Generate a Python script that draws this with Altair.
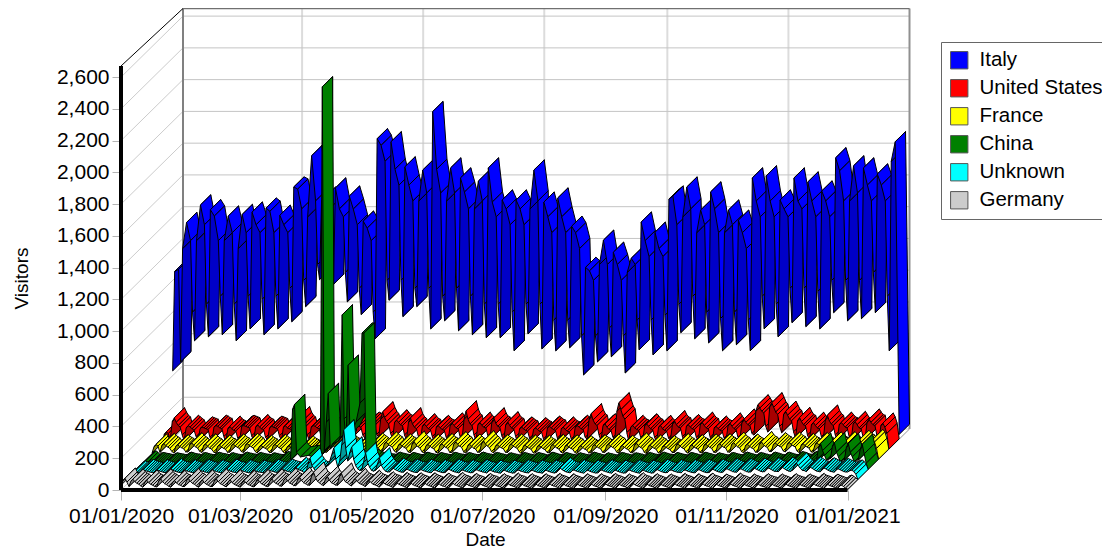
import altair as alt
import pandas as pd

alt.data_transformers.disable_max_rows()

SERIES = ["Italy", "United States", "France", "China", "Unknown", "Germany"]
BRIGHT = ["#0000ff", "#ff0000", "#ffff00", "#008000", "#00ffff", "#cccccc"]
DARK = ["#0000c8", "#a80000", "#909000", "#005000", "#009c9c", "#808080"]

TICK_DAYS = [0, 60, 121, 182, 244, 305, 366]
TICK_LABELS = ["01/01/2020", "01/03/2020", "01/05/2020", "01/07/2020", "01/09/2020", "01/11/2020", "01/01/2021"]
Y_TICKS = list(range(0, 2601, 200))

# Italy: five readings a week
ITALY_HEAD_DAYS = [0, 1, 3]
ITALY_HEAD = [430, 1056, 1070]
ITALY_WEEKS = [
    487,1200,1365,1250,800, 620,1250,1475,1350,850, 645,1445,1405,1250,900, 658,1250,1405,1300,850,
    620,1200,1415,1300,900, 695,1430,1350,1300,880, 658,1455,1435,1300,900, 695,1410,1350,1300,950,
    740,1588,1575,1450,1000, 835,1400,1785,1500,1100, 1005,1500,1525,1450,1150, 975,1582,1450,1400,1050,
    865,1531,1449,1350,950, 785,1373,1329,1250,800, 632,1892,1850,1750,1000, 875,1873,1700,1600,1000,
    772,1715,1600,1500,950, 835,1500,1695,1550,950, 695,2063,1700,1550,900, 746,1500,1708,1550,950,
    683,1645,1556,1450,900, 658,1450,1625,1500,850, 639,1708,1493,1400,850, 639,1506,1450,1350,800,
    557,1506,1450,1350,850, 664,1450,1695,1500,850, 569,1493,1400,1300,750, 557,1519,1400,1300,750,
    576,1341,1300,1200,650, 405,1082,1060,1000,650, 487,1100,1253,1100,700, 519,1177,1100,1000,650,
    417,1050,1139,1100,750, 563,1367,1250,1150,750, 531,1303,1200,1150,780, 557,1512,1531,1350,850,
    671,1400,1588,1450,900, 633,1300,1443,1350,800, 607,1557,1450,1300,760, 557,1300,1443,1350,800,
    595,1379,1300,1200,750, 557,1645,1500,1400,900, 695,1658,1500,1400,850, 645,1506,1450,1400,950,
    734,1645,1500,1450,950, 709,1620,1500,1400,930, 695,1563,1500,1400,1000, 797,1772,1690,1500,1000,
    746,1500,1721,1550,1000, 759,1708,1600,1500,1050, 797,1670,1600,1500,900,
]
ITALY_TAIL_DAYS = [361, 362, 364, 366]
ITALY_TAIL = [557, 1750, 1873, 30]

# the others: one reading a day
RED = [45,95,110,100,
    60,175,198,170,150,140,90, 55,135,150,140,130,120,80, 50,130,140,135,130,125,75, 55,140,150,145,135,130,80,
    50,130,145,130,120,115,70, 60,145,150,145,140,135,85, 55,140,155,140,130,125,75, 60,135,145,140,135,130,85,
    55,140,150,135,130,125,80, 65,170,205,170,150,140,90, 60,140,150,145,135,130,80, 55,145,155,135,125,120,75,
    60,140,150,145,140,135,85, 65,150,165,155,145,140,90, 70,160,170,165,155,150,95, 75,190,236,200,175,160,100,
    65,170,185,170,155,150,90, 60,170,198,160,140,130,80, 55,145,160,145,130,125,80, 50,140,150,135,125,120,75,
    55,150,165,150,135,130,80, 65,190,242,190,160,150,90, 55,155,170,150,140,135,85, 60,170,198,165,145,140,85,
    60,155,173,150,135,130,80, 50,130,140,130,120,115,70, 45,125,135,125,115,110,65, 50,135,145,135,125,120,70,
    45,130,140,125,115,110,65, 50,140,150,140,130,125,75, 65,190,224,185,160,150,90, 55,150,160,140,125,120,75,
    70,240,293,250,210,190,105, 50,140,150,135,125,120,75, 55,150,160,145,130,125,75, 50,140,150,130,120,115,70,
    60,160,180,155,140,135,80, 50,145,155,140,130,125,75, 55,155,170,150,135,130,75, 45,135,145,130,120,115,70,
    55,150,165,145,130,125,75, 65,170,190,170,155,150,100, 90,240,280,260,240,230,145, 110,270,293,265,235,220,145,
    105,220,240,215,190,180,110, 70,180,200,175,155,150,90, 60,155,170,150,135,130,80, 65,185,215,180,160,150,90,
    60,155,170,155,140,135,80, 55,160,175,155,135,130,80, 60,170,190,170,155,150,85, 55,150,165,140,100,2]
FRANCE = [40,80,95,85,
    45,90,100,88,78,70,50, 42,84,92,82,74,68,48, 48,94,105,90,80,72,52, 44,88,98,84,72,66,48,
    40,82,90,80,70,65,46, 46,88,96,86,76,70,50, 45,90,100,90,80,72,50, 42,80,88,78,70,64,46,
    44,86,94,84,74,68,48, 40,78,86,76,68,62,44, 38,76,84,74,66,60,42, 42,84,92,84,76,70,46,
    46,90,98,90,80,72,50, 44,82,90,80,72,66,48, 42,80,88,78,70,64,46, 48,92,102,92,82,74,52,
    50,98,110,96,86,78,54, 45,88,96,86,76,70,48, 44,96,115,92,80,72,48, 42,86,94,84,74,68,46,
    40,88,100,86,76,70,44, 44,96,112,96,84,76,48, 42,86,96,84,72,66,46, 46,100,118,98,84,74,50,
    42,84,92,82,74,68,46, 44,88,96,86,76,70,48, 38,82,90,78,70,64,42, 40,80,88,78,68,62,44,
    42,86,94,82,72,66,46, 40,82,90,80,70,64,44, 38,78,86,76,66,60,42, 42,84,92,82,74,68,46,
    44,88,96,86,76,70,48, 40,80,88,76,68,62,44, 42,90,104,88,76,70,46, 38,82,90,78,70,64,42,
    40,78,86,76,68,62,44, 44,88,100,84,74,68,48, 40,84,92,80,72,66,44, 42,88,96,86,76,70,46,
    44,90,98,88,78,72,48, 46,94,108,92,80,74,50, 42,88,96,84,74,68,46, 46,96,112,94,82,76,50,
    50,94,104,94,84,78,54, 48,96,108,96,86,80,52, 44,90,100,88,78,72,48, 46,94,106,92,80,74,50,
    48,98,110,96,84,78,52, 50,100,112,96,84,76,54, 52,104,120,106,96,90,58, 55,110,125,110,70,2]
CHINA = [35,48,55,46,
    32,42,44,41,38,36,33, 30,40,42,39,36,34,31, 33,43,46,42,38,35,34, 30,41,44,40,36,33,31,
    32,42,45,41,38,36,33, 30,40,43,38,35,32,31, 33,43,46,42,39,36,34, 32,41,44,40,37,34,33,
    30,40,42,38,35,33,31, 34,46,50,46,42,38,35, 36,48,52,48,44,40,37, 36,46,50,46,42,38,37,
    38,48,52,48,44,40,39, 38,50,54,50,46,42,39, 38,48,52,48,44,40,39, 36,46,50,46,42,38,37,
    34,44,48,44,40,36,35, 32,42,46,42,39,36,33, 30,41,44,41,37,34,31, 32,43,46,42,38,35,33,
    30,41,44,40,37,34,31, 32,42,45,41,37,34,33, 30,40,44,40,36,33,31, 32,42,46,42,38,35,33,
    30,41,44,41,37,34,31, 28,39,42,38,35,32,29, 30,41,44,40,36,33,31, 28,40,44,40,37,34,29,
    30,42,46,42,38,34,31, 30,41,44,40,36,33,31, 28,39,42,38,35,32,29, 30,42,46,42,38,35,31,
    28,38,42,38,35,32,29, 30,41,44,41,37,34,31, 28,39,42,39,36,33,29, 30,41,44,40,36,33,31,
    32,42,46,42,38,34,33, 30,41,44,40,36,33,31, 28,41,44,41,37,34,29, 30,42,46,42,38,35,31,
    28,38,42,38,35,32,29, 30,41,44,40,36,33,31, 30,42,46,42,38,34,31, 28,40,44,40,36,33,29,
    30,42,46,43,39,35,31, 30,42,46,42,38,34,31, 32,46,50,46,42,36,33, 34,46,50,46,42,36,35,
    60,140,165,120,90,60,65, 70,150,170,110,80,50,60, 60,140,165,110,80,50,60, 60,130,160,100,40,2]
SPIKE_DAYS = [74, 75, 76, 77, 78, 80, 84, 89, 90, 91, 92, 93, 94, 95, 96, 99, 100, 101, 102, 103, 104, 105, 108, 110, 111, 112, 113, 116]
SPIKE_VALUES = [45, 60, 380, 411, 110, 80, 90, 70, 90, 2411, 120, 300, 480, 130, 160, 180, 200, 975, 320, 180, 658, 220, 300, 420, 860, 860, 70, 50]
UNKNOWN = [35,50,55,48,
    46,60,64,58,54,50,47, 44,58,62,56,52,48,45, 46,62,70,60,54,50,47, 44,58,62,56,52,48,45,
    45,60,64,58,54,50,46, 44,58,62,56,52,48,45, 46,62,66,60,54,50,47, 44,58,62,56,52,48,45,
    44,56,60,54,50,48,45, 46,60,64,58,54,50,47, 48,62,66,60,56,52,49, 46,66,78,66,60,55,46,
    45,100,138,90,70,55,50, 50,60,70,80,90,120,160, 201,130,80,120,220,315,200, 120,170,207,130,90,70,60,
    60,110,170,110,80,60,55, 60,100,138,90,70,55,50, 50,66,72,64,58,52,49, 48,62,66,60,54,50,47,
    46,60,64,58,54,50,47, 44,58,62,56,52,48,45, 46,62,66,60,54,50,47, 44,58,62,56,52,48,45,
    46,60,64,58,54,50,47, 44,56,60,54,50,48,45, 42,56,60,54,50,46,43, 44,58,62,56,52,48,45,
    44,56,60,54,50,46,45, 42,56,60,54,50,46,43, 46,64,75,64,56,50,47, 44,58,62,56,52,48,45,
    42,56,60,54,50,46,43, 44,58,62,56,52,48,45, 42,56,60,54,50,46,43, 44,58,62,56,52,48,45,
    42,56,60,54,50,46,43, 44,60,64,58,52,48,45, 46,58,62,56,52,48,47, 44,58,62,56,52,48,45,
    44,60,64,58,52,48,45, 46,62,66,60,54,50,47, 48,66,70,64,58,52,49, 48,66,70,64,58,52,49,
    50,68,72,66,60,54,51, 52,70,75,68,60,54,53, 52,72,78,70,62,56,53, 60,90,106,90,72,60,58,
    52,74,80,72,64,56,53, 50,70,74,68,60,54,51, 48,66,70,64,58,52,49, 50,58,60,52,35,2]
GERMANY = [30,60,74,50,
    22,56,68,52,42,36,26, 18,50,62,46,36,30,22, 20,58,70,52,40,34,24, 18,48,60,44,34,30,22,
    22,60,72,54,42,36,26, 18,52,64,46,36,30,22, 22,58,70,52,40,34,26, 20,52,64,46,36,30,24,
    18,48,60,44,34,30,22, 20,54,66,48,38,32,24, 22,58,70,52,42,36,26, 24,62,74,56,44,38,28,
    28,66,80,60,46,40,32, 30,90,112,78,54,45,34, 28,70,85,62,46,40,32, 30,86,106,74,52,45,34,
    26,60,72,54,42,36,30, 22,50,60,46,36,32,26, 18,42,50,38,32,28,22, 16,38,46,36,30,26,20,
    14,36,44,34,28,24,18, 14,36,44,34,28,24,18, 12,34,42,32,26,22,16, 14,38,46,34,28,24,18,
    12,32,40,30,26,22,16, 12,32,40,30,26,22,16, 10,30,38,28,24,20,14, 12,34,42,30,26,22,16,
    10,30,38,28,24,20,14, 10,30,38,28,24,20,14, 12,32,40,30,26,22,16, 10,30,38,28,24,20,14,
    10,30,38,28,24,20,14, 10,30,38,28,24,20,14, 12,32,40,30,26,22,16, 10,28,36,28,24,20,14,
    12,36,44,32,26,22,16, 10,30,38,28,24,20,14, 10,28,36,28,24,20,14, 12,32,40,30,26,22,16,
    10,30,38,28,24,20,14, 12,34,42,30,26,22,16, 10,28,36,28,24,20,14, 12,34,42,30,26,22,16,
    10,28,36,28,24,20,14, 12,30,38,28,24,20,16, 10,28,36,28,24,20,14, 12,30,38,28,24,20,16,
    10,28,36,28,24,20,14, 12,32,40,30,26,22,16, 10,28,36,28,24,20,14, 12,26,30,22,12,2]

# geometry (scale factors chosen to fit the 1110x556 picture)
PX_PER_DAY = 1.985
PX_PER_UNIT = 0.1588
PLOT_W, PLOT_H = 789, 482
DEPTH_DAYS = 62 / PX_PER_DAY
DEPTH_UNITS = 61 / PX_PER_UNIT
STEP_X = DEPTH_DAYS / 6
STEP_Y = DEPTH_UNITS / 6
X_MAX = PLOT_W / PX_PER_DAY
Y_MAX = PLOT_H / PX_PER_UNIT
TOP = Y_MAX - 3
TOP_FRONT = 2670
LAST = 366

week_starts = list(range(4, 361, 7))
italy_days = ITALY_HEAD_DAYS + [w + o for w in week_starts[:51] for o in (0, 1, 3, 5, 6)] + ITALY_TAIL_DAYS
italy_vals = ITALY_HEAD + ITALY_WEEKS + ITALY_TAIL
daily = list(range(LAST + 1))
china_map = {d: v for d, v in zip(daily, CHINA) if d < 74 or d > 116}
china_map.update(dict(zip(SPIKE_DAYS, SPIKE_VALUES)))
china_days = sorted(china_map)
china_vals = [china_map[d] for d in china_days]

tracks = [
    (italy_days, italy_vals), (daily, RED), (daily, FRANCE),
    (china_days, china_vals), (daily, UNKNOWN), (daily, GERMANY),
]

rows = []
seg = 0
for i, (name, (days, vals)) in enumerate(zip(SERIES, tracks)):
    depth = 5 - i
    n = min(len(days), len(vals))
    for a in range(n - 1):
        d0, d1 = days[a], days[a + 1]
        v0, v1 = vals[a], vals[a + 1]
        bright = (d1 - d0) * PX_PER_DAY >= (v1 - v0) * PX_PER_UNIT
        key = name if bright else name + " dark"
        corners = [(d0, v0, depth), (d1, v1, depth), (d1, v1, depth + 1), (d0, v0, depth + 1), (d0, v0, depth)]
        for o, (d, v, z) in enumerate(corners):
            rows.append({"seg": seg, "o": o, "x": d + z * STEP_X, "y": v + z * STEP_Y, "face": key})
        seg += 1
ribbons = pd.DataFrame(rows)

wall = []
def edge(x0, y0, x1, y1, color, width):
    n = len(wall) // 2
    wall.append({"id": n, "o": 0, "x": x0, "y": y0, "c": color, "w": width})
    wall.append({"id": n, "o": 1, "x": x1, "y": y1, "c": color, "w": width})

for d in TICK_DAYS[1:-1]:
    edge(d, 0, d + DEPTH_DAYS, DEPTH_UNITS, "#dcdcdc", 1)
    edge(d + DEPTH_DAYS, DEPTH_UNITS, d + DEPTH_DAYS, TOP, "#dcdcdc", 2)
for v in Y_TICKS:
    edge(0, v, DEPTH_DAYS, v + DEPTH_UNITS, "#cccccc", 1)
    edge(DEPTH_DAYS, v + DEPTH_UNITS, LAST + DEPTH_DAYS, v + DEPTH_UNITS, "#c4c4c4", 1)
edge(DEPTH_DAYS, DEPTH_UNITS, DEPTH_DAYS, TOP, "#808080", 2)
edge(LAST + DEPTH_DAYS, DEPTH_UNITS, LAST + DEPTH_DAYS, TOP, "#909090", 2)
edge(DEPTH_DAYS, TOP, LAST + DEPTH_DAYS, TOP, "#707070", 1.5)
edge(LAST, 0, LAST + DEPTH_DAYS, DEPTH_UNITS, "#999999", 1)
walls = pd.DataFrame(wall)

frame = []
def fedge(x0, y0, x1, y1, width):
    n = len(frame) // 2
    frame.append({"id": n, "o": 0, "x": x0, "y": y0, "w": width})
    frame.append({"id": n, "o": 1, "x": x1, "y": y1, "w": width})
fedge(0, 0, 0, TOP_FRONT, 4)
fedge(0, 0, LAST, 0, 4)
fedge(0, TOP_FRONT, DEPTH_DAYS, TOP, 1)
frames = pd.DataFrame(frame)

x_scale = alt.Scale(domain=[0, X_MAX], nice=False, zero=False)
y_scale = alt.Scale(domain=[0, Y_MAX], nice=False, zero=False)
label_expr = "{" + ",".join(f"'{d}':'{t}'" for d, t in zip(TICK_DAYS, TICK_LABELS)) + "}[datum.value]"
FONT = "Liberation Sans"

x_axis = alt.Axis(values=TICK_DAYS, labelExpr=label_expr, title="Date", grid=False, domain=False,
                  tickColor="#b4b4b4", tickSize=10, labelFont=FONT, labelFontSize=21, labelColor="#000000",
                  labelPadding=5, titleFont=FONT, titleFontSize=19, titleFontWeight="normal", titleColor="#000000",
                  titleX=364, titleY=49, titleBaseline="middle", labelOverlap=False, labelFlush=False)
y_axis = alt.Axis(values=Y_TICKS, format=",d", title="Visitors", grid=False, domain=False,
                  tickColor="#b4b4b4", tickSize=9, labelFont=FONT, labelFontSize=21, labelColor="#000000",
                  labelPadding=3, titleFont=FONT, titleFontSize=19, titleFontWeight="normal", titleColor="#000000",
                  titleX=-100, titleY=270, titleBaseline="middle", labelOverlap=False)

wall_layer = alt.Chart(walls).mark_line(strokeCap="butt").encode(
    x=alt.X("x:Q", scale=x_scale, axis=x_axis),
    y=alt.Y("y:Q", scale=y_scale, axis=y_axis),
    detail="id:N",
    order=alt.Order("o:Q"),
    stroke=alt.Stroke("c:N", scale=None),
    strokeWidth=alt.StrokeWidth("w:Q", scale=None),
)

face_domain = SERIES + [s + " dark" for s in SERIES]
face_range = BRIGHT + DARK
ribbon_layer = alt.Chart(ribbons).mark_line(filled=True, stroke="#000000", strokeWidth=1, strokeJoin="miter").encode(
    x=alt.X("x:Q", scale=x_scale, axis=x_axis),
    y=alt.Y("y:Q", scale=y_scale, axis=y_axis),
    detail="seg:N",
    order=alt.Order("o:Q"),
    fill=alt.Fill("face:N", scale=alt.Scale(domain=face_domain, range=face_range),
                  legend=alt.Legend(values=SERIES, title=None, orient="none", legendX=820, legendY=34,
                                    symbolType="square", symbolSize=300, symbolStrokeColor="#555555",
                                    symbolStrokeWidth=1, labelFont=FONT, labelFontSize=20.5, labelColor="#000000",
                                    fillColor="#ffffff", strokeColor="#666666", padding=8, rowPadding=6,
                                    labelOffset=10, labelLimit=200)),
)

frame_layer = alt.Chart(frames).mark_line(color="#000000", strokeCap="butt").encode(
    x=alt.X("x:Q", scale=x_scale, axis=x_axis),
    y=alt.Y("y:Q", scale=y_scale, axis=y_axis),
    detail="id:N",
    order=alt.Order("o:Q"),
    strokeWidth=alt.StrokeWidth("w:Q", scale=None),
)

chart = alt.layer(wall_layer, ribbon_layer, frame_layer).properties(
    width=PLOT_W, height=PLOT_H, autosize="none",
    padding={"left": 113, "top": 0, "right": 192, "bottom": 58},
).configure_view(stroke=None)

chart.save("out.html", embed_options={"renderer": "svg", "actions": False})
